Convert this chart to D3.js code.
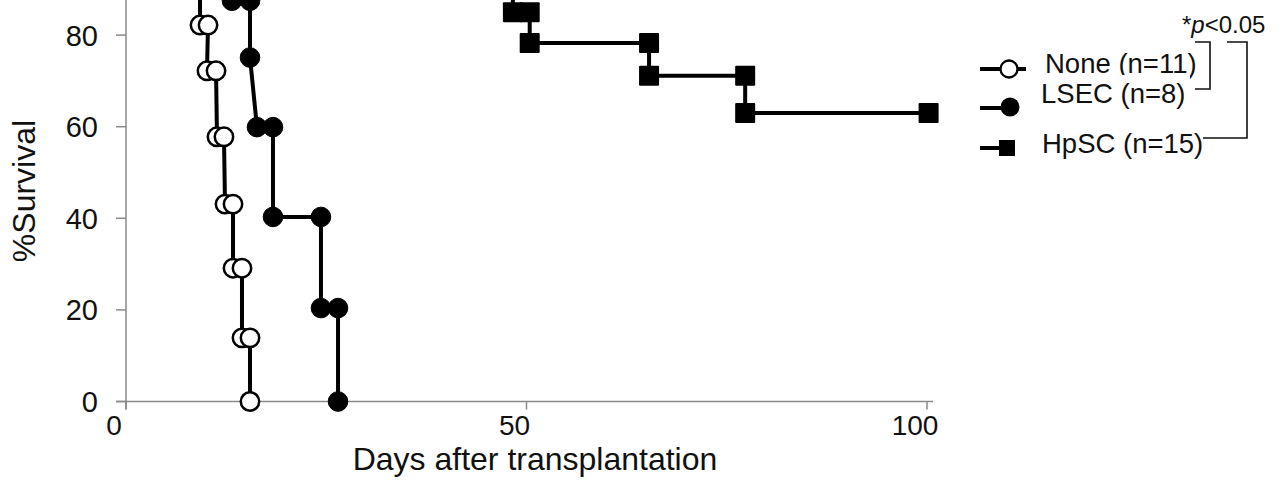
<!DOCTYPE html>
<html>
<head>
<meta charset="utf-8">
<script src="https://cdn.jsdelivr.net/npm/d3@7"></script>
<style>
  html, body { margin: 0; padding: 0; background: #fff; }
  svg { display: block; font-family: "Liberation Sans", Arial, sans-serif; }
</style>
</head>
<body>
<svg id="chart" width="1287" height="483"></svg>
<script>
// ---- data (Kaplan-Meier step points, day / %survival) ----
const noneDays = [0, 8.2, 8.2, 9.24, 9.24, 10.24, 10.11, 11.24, 11.36, 12.23, 12.36, 13.36, 13.36, 14.48, 14.48, 15.48, 15.48];
const noneSurv = [100, 100, 90.9, 90.9, 82.2, 82.2, 72.2, 72.2, 57.8, 57.8, 43.1, 43.1, 29.1, 29.1, 13.9, 13.9, 0];

const lsecDays = [0, 13.23, 13.23, 15.48, 15.48, 16.35, 18.35, 18.35, 24.34, 24.34, 26.47, 26.47];
const lsecSurv = [100, 100, 87.5, 87.5, 75.1, 59.9, 59.9, 40.3, 40.3, 20.4, 20.4, 0];

const hpscDays = [0, 40.0, 40.0, 48.3, 48.3, 50.4, 50.4, 65.3, 65.3, 77.3, 77.3, 100.2];
const hpscSurv = [100, 100, 92.5, 92.5, 85.0, 85.0, 78.3, 78.3, 71.1, 71.1, 63.0, 63.0];

const xTicks = [0, 50, 100];
const yTicks = [0, 20, 40, 60, 80];
const xTitle = "Days after transplantation";
const yTitle = "%Survival";
const seriesNames = ["None (n=11)", "LSEC (n=8)", "HpSC (n=15)"];
const pLabel = "p<0.05";

// ---- scales ----
const svg = d3.select("#chart");
svg.append("rect").attr("width", 1287).attr("height", 483).attr("fill", "#fff");

const x = d3.scaleLinear().domain([0, 100]).range([126, 927]);
const y = d3.scaleLinear().domain([0, 100]).range([401.5, -56.5]);

const axisColor = "#8a8a8a";

// ---- axes ----
const gx = svg.append("g");
gx.append("line")
  .attr("x1", x(0) - 10).attr("x2", x(100) + 6)
  .attr("y1", y(0)).attr("y2", y(0))
  .attr("stroke", axisColor).attr("stroke-width", 1.5);
gx.selectAll("line.tick").data(xTicks).enter().append("line")
  .attr("class", "tick")
  .attr("x1", d => x(d)).attr("x2", d => x(d))
  .attr("y1", y(0)).attr("y2", y(0) + 8)
  .attr("stroke", axisColor).attr("stroke-width", 1.5);
gx.selectAll("text").data(xTicks).enter().append("text")
  .attr("x", d => x(d) - 12)
  .attr("y", y(0) + 33.5)
  .attr("text-anchor", "middle")
  .attr("font-size", 28)
  .attr("fill", "#111")
  .text(d => d);

const gy = svg.append("g");
gy.append("line")
  .attr("x1", x(0)).attr("x2", x(0))
  .attr("y1", y(0) + 8).attr("y2", y(100))
  .attr("stroke", axisColor).attr("stroke-width", 1.5);
gy.selectAll("line.tick").data(yTicks).enter().append("line")
  .attr("class", "tick")
  .attr("x1", x(0) - 10).attr("x2", x(0))
  .attr("y1", d => y(d)).attr("y2", d => y(d))
  .attr("stroke", axisColor).attr("stroke-width", 1.5);
gy.selectAll("text").data(yTicks).enter().append("text")
  .attr("x", 98)
  .attr("y", d => y(d))
  .attr("dy", "0.36em")
  .attr("text-anchor", "end")
  .attr("font-size", 29)
  .attr("fill", "#111")
  .text(d => d);

svg.append("text")
  .attr("x", 535).attr("y", 470)
  .attr("text-anchor", "middle")
  .attr("font-size", 32)
  .attr("fill", "#111")
  .text(xTitle);

svg.append("text")
  .attr("transform", "translate(35,191) rotate(-90)")
  .attr("text-anchor", "middle")
  .attr("font-size", 32)
  .attr("fill", "#111")
  .text(yTitle);

// ---- series ----
const line = d3.line().x(d => x(d[0])).y(d => y(d[1]));
function pts(days, surv) { return days.map((d, i) => [d, surv[i]]); }

const series = [
  { data: pts(noneDays, noneSurv), shape: "open" },
  { data: pts(lsecDays, lsecSurv), shape: "filled" },
  { data: pts(hpscDays, hpscSurv), shape: "square" }
];

const plot = svg.append("g");
series.forEach(s => {
  plot.append("path")
    .attr("d", line(s.data))
    .attr("fill", "none")
    .attr("stroke", "#000")
    .attr("stroke-width", 4)
    .attr("stroke-linejoin", "round");
});
series.forEach(s => {
  const pts2 = s.data.slice(1); // first point (day 0) has no marker
  if (s.shape === "square") {
    plot.selectAll(null).data(pts2).enter().append("rect")
      .attr("x", d => x(d[0]) - 10).attr("y", d => y(d[1]) - 10)
      .attr("width", 20).attr("height", 20).attr("rx", 1)
      .attr("fill", "#000");
  } else {
    plot.selectAll(null).data(pts2).enter().append("circle")
      .attr("cx", d => x(d[0])).attr("cy", d => y(d[1]))
      .attr("r", s.shape === "open" ? 9.2 : 9.8)
      .attr("fill", s.shape === "open" ? "#fff" : "#000")
      .attr("stroke", "#000")
      .attr("stroke-width", s.shape === "open" ? 2.5 : 1);
  }
});

// ---- legend ----
const lg = svg.append("g");
const legY = [69, 108, 148];
const legText = [73, 103, 153];
// symbols
lg.append("line").attr("x1", 980).attr("x2", 1026).attr("y1", legY[0]).attr("y2", legY[0])
  .attr("stroke", "#000").attr("stroke-width", 4);
lg.append("circle").attr("cx", 1009).attr("cy", legY[0]).attr("r", 8.5)
  .attr("fill", "#fff").attr("stroke", "#000").attr("stroke-width", 2.3);
lg.append("line").attr("x1", 980).attr("x2", 1012).attr("y1", legY[1]).attr("y2", legY[1])
  .attr("stroke", "#000").attr("stroke-width", 4);
lg.append("circle").attr("cx", 1010).attr("cy", legY[1] - 1).attr("r", 9.5).attr("fill", "#000");
lg.append("line").attr("x1", 980).attr("x2", 1002).attr("y1", legY[2]).attr("y2", legY[2])
  .attr("stroke", "#000").attr("stroke-width", 4);
lg.append("rect").attr("x", 999).attr("y", legY[2] - 8).attr("width", 16).attr("height", 16).attr("fill", "#000");

// labels
lg.append("text").attr("x", 1045).attr("y", legText[0]).attr("font-size", 27.5).attr("fill", "#111").text(seriesNames[0]);
lg.append("rect").attr("x", 1036).attr("y", 75).attr("width", 154).attr("height", 32).attr("fill", "#fff");
lg.append("text").attr("x", 1041).attr("y", legText[1]).attr("font-size", 27.5).attr("fill", "#111").text(seriesNames[1]);
lg.append("text").attr("x", 1042).attr("y", legText[2]).attr("font-size", 27.5).attr("fill", "#111").text(seriesNames[2]);

// significance brackets
const br = "#111";
lg.append("path").attr("d", "M1195,42 H1210 V89 H1195")
  .attr("fill", "none").attr("stroke", br).attr("stroke-width", 1.6);
lg.append("path").attr("d", "M1227,42 H1247 V138 H1203")
  .attr("fill", "none").attr("stroke", br).attr("stroke-width", 1.6);
const pt = lg.append("text").attr("x", 1182).attr("y", 33).attr("font-size", 24).attr("fill", "#111");
pt.append("tspan").text("*");
pt.append("tspan").attr("font-style", "italic").text(pLabel.slice(0, 1));
pt.append("tspan").text(pLabel.slice(1));
</script>
</body>
</html>
